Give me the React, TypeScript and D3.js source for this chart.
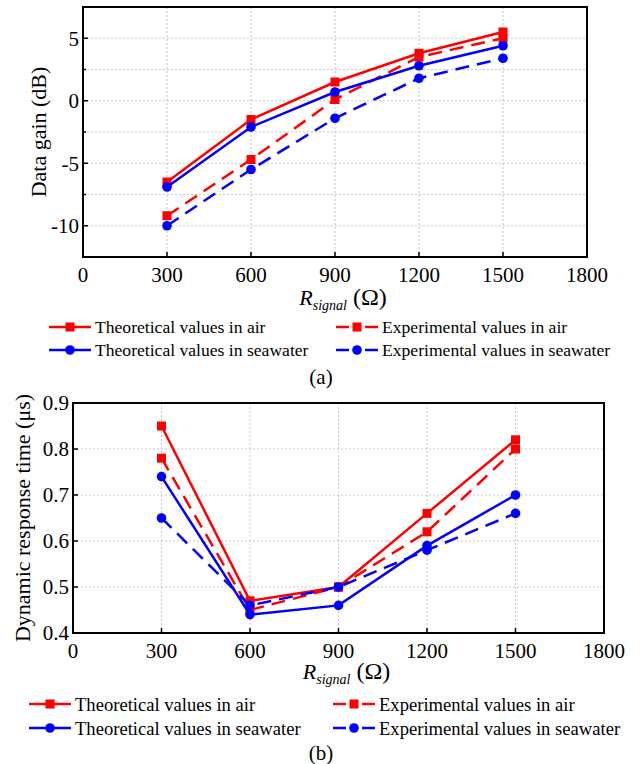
import React from "react";
import * as d3 from "d3";

// x values (R_signal, ohm)
const rSignal = [300, 600, 900, 1200, 1500];
const xTicks = [0, 300, 600, 900, 1200, 1500, 1800];

// (a) data gain, dB
const gainTheoAir = [-6.5, -1.5, 1.5, 3.8, 5.5];
const gainExpAir = [-9.2, -4.7, 0.1, 3.5, 5.0];
const gainTheoSea = [-6.9, -2.1, 0.7, 2.8, 4.4];
const gainExpSea = [-10, -5.5, -1.4, 1.8, 3.4];
const gainTicks = [-10, -5, 0, 5];
const gainMinor = [-12.5, -10, -7.5, -5, -2.5, 0, 2.5, 5, 7.5];

// (b) dynamic response time, us
const timeTheoAir = [0.85, 0.47, 0.5, 0.66, 0.82];
const timeExpAir = [0.78, 0.45, 0.5, 0.62, 0.8];
const timeTheoSea = [0.74, 0.44, 0.46, 0.59, 0.7];
const timeExpSea = [0.65, 0.46, 0.5, 0.58, 0.66];
const timeTicks = [0.4, 0.5, 0.6, 0.7, 0.8, 0.9];

const seriesNames = [
  "Theoretical values in air",
  "Experimental values in air",
  "Theoretical values in seawater",
  "Experimental values in seawater",
];

const RED = "#ff0000";
const BLUE = "#0000ff";
const FONT = "'Liberation Serif', 'Times New Roman', serif";
const DASH = "14 8";

type Series = { values: number[]; color: string; dashed: boolean; marker: "square" | "circle" };

const Marker = ({ x, y, s }: { x: number; y: number; s: Series }) =>
  s.marker === "square" ? (
    <rect x={x - 4.5} y={y - 4.5} width={9} height={9} fill={s.color} />
  ) : (
    <circle cx={x} cy={y} r={4.8} fill={s.color} />
  );

type PanelProps = {
  left: number;
  right: number;
  top: number;
  bottom: number;
  yDomain: [number, number];
  yTicks: number[];
  yFmt: (v: number) => string;
  yGrid: number[];
  yMinor: number[];
  yLabel: string;
  yLabelX: number;
  series: Series[];
  tickY: number;
  titleY: number;
  legendY: number[];
  legendX: number[];
  legendFont: number;
  caption: string;
  captionY: number;
};

const Panel = (p: PanelProps) => {
  const x = d3.scaleLinear().domain([0, 1800]).range([p.left, p.right]);
  const y = d3.scaleLinear().domain(p.yDomain).range([p.bottom, p.top]);
  const cx = (p.left + p.right) / 2;
  return (
    <g fontFamily={FONT}>
      {/* grid */}
      {xTicks.slice(1, -1).map((t) => (
        <line key={"gx" + t} x1={x(t)} x2={x(t)} y1={p.top} y2={p.bottom} stroke="#c8c8c8" strokeWidth={1} strokeDasharray="2 2" />
      ))}
      {p.yGrid.map((t) => (
        <line key={"gy" + t} x1={p.left} x2={p.right} y1={y(t)} y2={y(t)} stroke="#c8c8c8" strokeWidth={1} strokeDasharray="2 2" />
      ))}
      {/* ticks inward */}
      {xTicks.map((t) => (
        <line key={"tx" + t} x1={x(t)} x2={x(t)} y1={p.bottom} y2={p.bottom - 5} stroke="#000" strokeWidth={1.5} />
      ))}
      {p.yMinor.map((t) => (
        <line key={"ty" + t} x1={p.left} x2={p.left + (p.yTicks.includes(t) ? 5 : 3)} y1={y(t)} y2={y(t)} stroke="#000" strokeWidth={1.5} />
      ))}
      {/* series */}
      {p.series.map((s, i) => {
        const line = d3
          .line<number>()
          .x((_, j) => x(rSignal[j]))
          .y((d) => y(d));
        return (
          <g key={i}>
            <path d={line(s.values) || ""} fill="none" stroke={s.color} strokeWidth={2.5} strokeDasharray={s.dashed ? DASH : undefined} />
            {s.values.map((v, j) => (
              <Marker key={j} x={x(rSignal[j])} y={y(v)} s={s} />
            ))}
          </g>
        );
      })}
      {/* frame */}
      <rect x={p.left} y={p.top} width={p.right - p.left} height={p.bottom - p.top} fill="none" stroke="#000" strokeWidth={2} />
      {/* tick labels */}
      {xTicks.map((t) => (
        <text key={"lx" + t} x={x(t)} y={p.tickY} dy="0.35em" textAnchor="middle" fontSize={21}>
          {t}
        </text>
      ))}
      {p.yTicks.map((t) => (
        <text key={"ly" + t} x={p.left - 4} y={y(t)} dy="0.35em" textAnchor="end" fontSize={21}>
          {p.yFmt(t)}
        </text>
      ))}
      {/* axis titles */}
      <text transform={`translate(${p.yLabelX},${(p.top + p.bottom) / 2}) rotate(-90)`} dy="0.35em" textAnchor="middle" fontSize={22}>
        {p.yLabel}
      </text>
      <text x={cx + 8} y={p.titleY} dy="0.35em" textAnchor="middle">
        <tspan fontStyle="italic" fontSize={22}>R</tspan>
        <tspan fontStyle="italic" fontSize={14} dy={5}>signal</tspan>
        <tspan fontSize={24} dy={-5}> (Ω)</tspan>
      </text>
      {/* legend */}
      {p.series.map((s, i) => {
        const lx = p.legendX[i % 2];
        const ly = p.legendY[Math.floor(i / 2)];
        return (
          <g key={"lg" + i}>
            {s.dashed ? (
              <>
                <line x1={lx} x2={lx + 13} y1={ly} y2={ly} stroke={s.color} strokeWidth={2.5} />
                <line x1={lx + 29} x2={lx + 42} y1={ly} y2={ly} stroke={s.color} strokeWidth={2.5} />
              </>
            ) : (
              <line x1={lx} x2={lx + 42} y1={ly} y2={ly} stroke={s.color} strokeWidth={2.5} />
            )}
            <Marker x={lx + 21} y={ly} s={s} />
            <text x={lx + 46} y={ly} dy="0.35em" fontSize={p.legendFont}>
              {seriesNames[i]}
            </text>
          </g>
        );
      })}
      <text x={321} y={p.captionY} dy="0.35em" textAnchor="middle" fontSize={21}>
        {p.caption}
      </text>
    </g>
  );
};

const mk = (vals: number[][]): Series[] => [
  { values: vals[0], color: RED, dashed: false, marker: "square" },
  { values: vals[1], color: RED, dashed: true, marker: "square" },
  { values: vals[2], color: BLUE, dashed: false, marker: "circle" },
  { values: vals[3], color: BLUE, dashed: true, marker: "circle" },
];

const App = () => (
  <svg width={642} height={764} style={{ position: "absolute", left: 0, top: 0, background: "#fff" }}>
    <Panel
      left={83}
      right={587}
      top={7}
      bottom={257}
      yDomain={[-12.5, 7.5]}
      yTicks={gainTicks}
      yFmt={(v) => String(v)}
      yGrid={[-10, -7.5, -5, -2.5, 0, 2.5, 5]}
      yMinor={gainMinor}
      yLabel="Data gain (dB)"
      yLabelX={38}
      series={mk([gainTheoAir, gainExpAir, gainTheoSea, gainExpSea])}
      tickY={275}
      titleY={299}
      legendY={[327, 350]}
      legendX={[49, 336]}
      legendFont={17.6}
      caption="(a)"
      captionY={377}
    />
    <Panel
      left={73}
      right={604}
      top={403}
      bottom={633}
      yDomain={[0.4, 0.9]}
      yTicks={timeTicks}
      yFmt={(v) => v.toFixed(1)}
      yGrid={[0.5, 0.6, 0.7, 0.8]}
      yMinor={timeTicks}
      yLabel="Dynamic response time (μs)"
      yLabelX={22}
      series={mk([timeTheoAir, timeExpAir, timeTheoSea, timeExpSea])}
      tickY={651}
      titleY={673}
      legendY={[704, 728]}
      legendX={[29, 333]}
      legendFont={18.6}
      caption="(b)"
      captionY={753}
    />
  </svg>
);

export default App;
